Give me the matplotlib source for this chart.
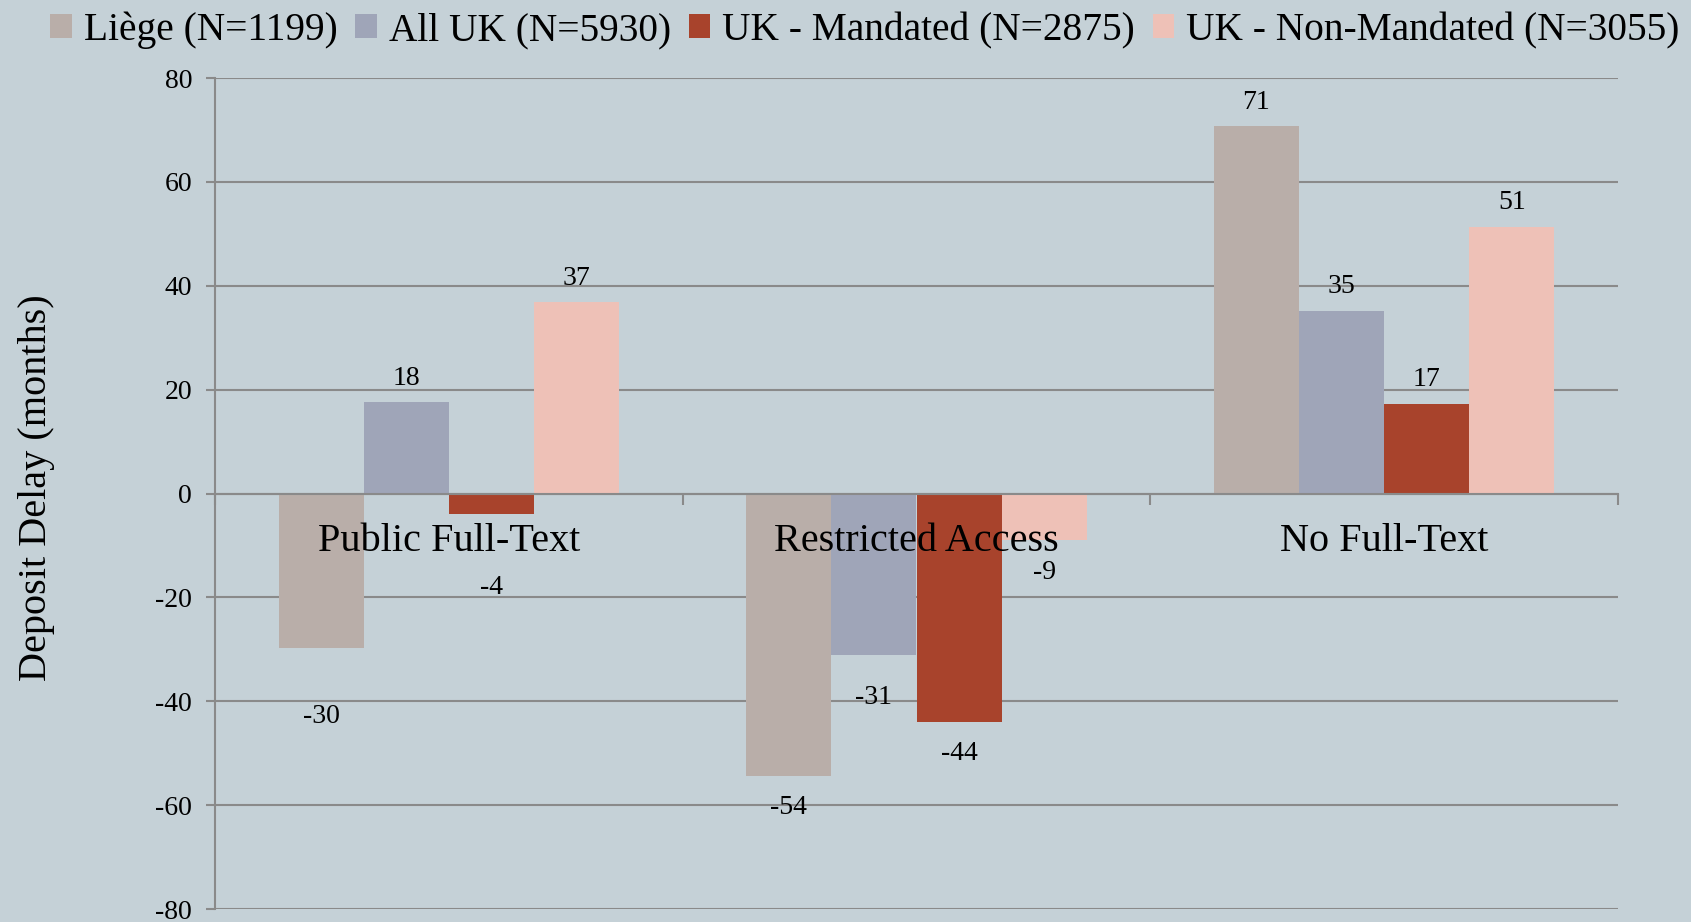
import matplotlib
matplotlib.use("Agg")
import matplotlib.pyplot as plt
from matplotlib.patches import Patch
import numpy as np

# ---- data ----
categories = ["Public Full-Text", "Restricted Access", "No Full-Text"]
series_names = ["Liège (N=1199)", "All UK (N=5930)", "UK - Mandated (N=2875)",
                "UK - Non-Mandated (N=3055)"]
liege = [-29.8, -54.4, 70.7]
all_uk = [17.6, -31.0, 35.2]
uk_mandated = [-3.9, -44.0, 17.3]
uk_non_mandated = [36.8, -8.9, 51.4]
y_ticks = [-80, -60, -40, -20, 0, 20, 40, 60, 80]

# ---- style ----
colors = ["#B9AEA9", "#9FA5B8", "#A8432C", "#EEC1B7"]
bg = "#C5D1D7"
grid_c = "#8A8A8A"
font = "Liberation Serif"
# label offsets (pixels below bar end) for negative bars, per series/category
neg_offsets = {(0, 0): 68, (2, 0): 74, (0, 1): 31, (1, 1): 43, (2, 1): 31, (3, 1): 33}

plt.rcParams["font.family"] = [font, "DejaVu Serif"]

fig = plt.figure(figsize=(16.91, 9.22), dpi=100, facecolor=bg)
ax = fig.add_axes([215 / 1691, 1 - 909 / 922, (1618 - 215) / 1691, (909 - 78) / 922])
ax.set_facecolor(bg)

all_series = [liege, all_uk, uk_mandated, uk_non_mandated]
x = np.arange(len(categories))
w = 0.182
for i, (vals, col) in enumerate(zip(all_series, colors)):
    pos = x + (i - 1.5) * w
    ax.bar(pos, vals, width=w, color=col, zorder=2, linewidth=0)
    for j, (p, v) in enumerate(zip(pos, vals)):
        if v >= 0:
            off = 24
        else:
            off = -neg_offsets.get((i, j), 31)
        ax.annotate(f"{round(v)}", (p, v), xytext=(0, off * 0.72),
                    textcoords="offset points", ha="center", va="center",
                    fontsize=20, color="black", zorder=4)

# category labels drawn above the bars
for xi, cat in zip(x, categories):
    ax.annotate(cat, (xi, 0), xytext=(0, -41.5), textcoords="offset points",
                ha="center", va="baseline", fontsize=29, color="black", zorder=5)

ax.set_xlim(-0.5, 2.5)
ax.set_ylim(-80, 80)
ax.set_yticks(y_ticks)
ax.set_yticklabels([str(t) for t in y_ticks], fontsize=20)
ax.yaxis.grid(True, color=grid_c, linewidth=1.5, zorder=0)
ax.set_axisbelow(True)

for s in ["top", "right"]:
    ax.spines[s].set_visible(False)
ax.spines["left"].set_color(grid_c)
ax.spines["left"].set_linewidth(1.5)
ax.spines["bottom"].set_position(("data", 0))
ax.spines["bottom"].set_color(grid_c)
ax.spines["bottom"].set_linewidth(1.5)
ax.spines["bottom"].set_zorder(3)

ax.set_xticks(x)
ax.set_xticklabels([])
ax.set_xticks([-0.5, 0.5, 1.5, 2.5], minor=True)
ax.tick_params(axis="x", which="major", length=0)
ax.tick_params(axis="x", which="minor", length=8, width=1.5, color=grid_c, direction="out")
ax.tick_params(axis="y", length=6.5, width=1.5, color=grid_c, pad=10)

ax.set_ylabel("Deposit Delay (months)", fontsize=29)
ax.yaxis.set_label_coords(-0.114, 0.5066)

handles = [Patch(facecolor=c, edgecolor="none") for c in colors]
fig.legend(handles, series_names, loc="center", bbox_to_anchor=(0.5115, 0.967),
           ncol=4, frameon=False, fontsize=28.4, handlelength=0.55, handleheight=0.55,
           handletextpad=0.3, columnspacing=0.45, borderpad=0, borderaxespad=0)

fig.savefig("out.png", dpi=100, facecolor=bg)
